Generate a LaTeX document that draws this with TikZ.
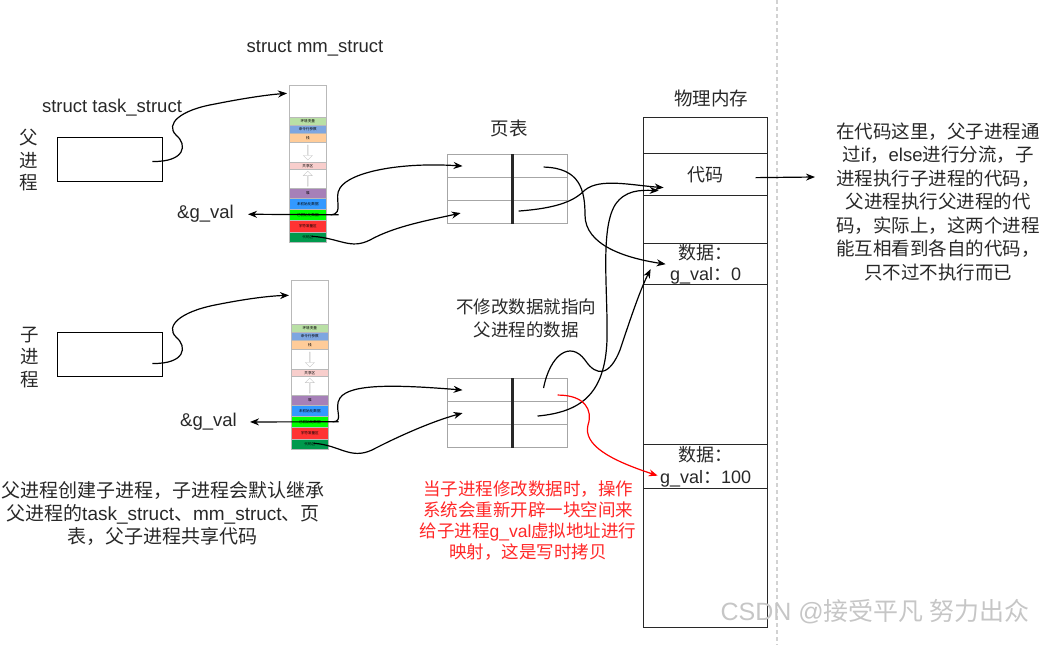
\documentclass[tikz,border=0pt]{standalone}
\usepackage{fontspec}
\setmainfont{Liberation Sans}
\newfontfamily\cjk{Noto Sans CJK SC}
\newfontfamily\latfont{Liberation Sans}
\newcommand{\lat}[1]{{\latfont #1}}
\usetikzlibrary{arrows.meta,shapes.arrows,calc,positioning}
\definecolor{memlgreen}{RGB}{185,224,165}
\definecolor{memlblue}{RGB}{126,166,224}
\definecolor{memorange}{RGB}{255,204,153}
\definecolor{mempink}{RGB}{248,206,204}
\definecolor{mempurple}{RGB}{166,128,184}
\definecolor{memblue}{RGB}{51,153,255}
\definecolor{memgreen}{RGB}{0,255,0}
\definecolor{memred}{RGB}{255,51,51}
\definecolor{memdkgreen}{RGB}{0,153,77}
\definecolor{cowred}{RGB}{255,40,40}
\definecolor{inkgray}{RGB}{40,40,40}

\tikzset{
  mmseg/.style={draw=gray!55, line width=0.6pt, minimum width=37, inner sep=0pt, anchor=north west, font=\cjk\fontsize{3.6}{4}\selectfont},
  ptcell/.style={draw=gray!70, line width=1.1pt, minimum height=23, inner sep=0pt, anchor=north west},
  memcell/.style={draw=inkgray, line width=1.3pt, minimum width=124, inner sep=0pt, anchor=north west, align=center, text=inkgray, font=\cjk\fontsize{18}{21.5}\selectfont},
  taskbox/.style={draw=black, line width=0.9pt, minimum width=105, minimum height=44},
  link/.style={line width=1.2pt, -{Stealth[length=9pt,width=7pt]}},
  cntext/.style={font=\cjk\fontsize{18.5}{23.5}\selectfont, align=center, text=inkgray, inner sep=0pt},
  entext/.style={font=\latfont\fontsize{18.5}{22}\selectfont, text=inkgray, inner sep=0pt}
}

% one mm_struct column: name, left x, top y, y of first band
\newcommand{\mmcol}[4]{%
  \node[mmseg, minimum height={#4-#3}] (#1-top) at (#2,#3) {};
  \foreach \nm/\ya/\h/\col/\txt in {env/0/8/memlgreen/环境变量, arg/8/8/memlblue/命令行参数,
      stack/16/9/memorange/栈, gapa/25/20/white/, shm/45/7/mempink/共享区, gapb/52/19/white/,
      heap/71/10/mempurple/堆, bss/81/11/memblue/未初始化数据, data/92/11/memgreen/已初始化数据,
      rodata/103/12/memred/字符常量区, text/115/10/memdkgreen/代码区}{
    \node[mmseg, fill=\col, minimum height=\h] (#1-\nm) at (#2,{#4+\ya}) {\txt};
  }
  \node[single arrow, draw=gray!45, minimum width=9pt, minimum height=15pt, single arrow head extend=2pt, inner sep=0pt, shape border rotate=270] at (#1-gapa.center) {};
  \node[single arrow, draw=gray!45, minimum width=9pt, minimum height=15pt, single arrow head extend=2pt, inner sep=0pt, shape border rotate=90] at (#1-gapb.center) {};
}

% one page table: name, left x, top y
\newcommand{\pagetab}[3]{%
  \foreach \r in {1,2,3}{
    \node[ptcell, minimum width=64] (#1-l\r) at (#2,{#3+23*(\r-1)}) {};
    \node[ptcell, minimum width=56] (#1-r\r) at ({#2+64},{#3+23*(\r-1)}) {};
  }
  \draw[line width=3pt, inkgray] (#1-l1.north east) -- (#1-l3.south east);
}

\begin{document}
\begin{tikzpicture}[x=1pt, y=-1pt]
  \useasboundingbox (0,0) rectangle (1047,645);

  % separator
  \draw[gray!35, line width=1.2pt, dash pattern=on 4pt off 3pt] (777,0) -- (777,645);

  % task_struct
  \node[entext] (tasklbl) at (112,108) {struct task\_struct};
  \node[taskbox] (ptask) at (109.5,159.5) {};
  \node[taskbox] (ctask) at (109.5,354.5) {};
  \node[cntext, font=\cjk\fontsize{18.5}{22.5}\selectfont] (plabel) at (29,160.5) {父\\进\\程};
  \node[cntext, font=\cjk\fontsize{18.5}{22.5}\selectfont] (clabel) at (30,357.5) {子\\进\\程};

  % mm_struct
  \node[entext] (mmlbl) at (315,48) {struct mm\_struct};
  \mmcol{p}{289}{85}{117}
  \mmcol{c}{291}{280}{324}
  \node[entext, anchor=east, inner xsep=14pt] (pgval) at (248,214) {\&g\_val};
  \node[entext, anchor=east, inner xsep=13pt] (cgval) at (250,422) {\&g\_val};

  % page tables
  \node[cntext] (ptlbl) at (509,128) {页表};
  \pagetab{ptA}{447}{154}
  \pagetab{ptB}{447}{378}

  % physical memory
  \node[cntext] (memlbl) at (711,98) {物理内存};
  \node[memcell, minimum height=36] (mtop) at (643,117) {};
  \node[memcell, minimum height=42] (mcode) at (643,153) {代码};
  \node[memcell, minimum height=48] (mgapa) at (643,195) {};
  \node[memcell, minimum height=41] (mdata) at (643,243) {数据：\\\lat{g\_val}：\lat{0}};
  \node[memcell, minimum height=160] (mgapb) at (643,284) {};
  \node[memcell, minimum height=44] (mdatb) at (643,444) {数据：\\\lat{g\_val}：\lat{100}};
  \node[memcell, minimum height=139] (mbot) at (643,488) {};

  % notes
  \node[cntext] (note) at (938,201.5) {在代码这里，父子进程通\\过\lat{if}，\lat{else}进行分流，子\\进程执行子进程的代码，\\父进程执行父进程的代\\码，实际上，这两个进程\\能互相看到各自的代码，\\只不过不执行而已};
  \node[cntext, font=\cjk\fontsize{17.5}{23}\selectfont] (sharenote) at (526,318.5) {不修改数据就指向\\父进程的数据};
  \node[cntext, text=cowred, font=\cjk\fontsize{17.5}{21}\selectfont] (cownote) at (528,520.5) {当子进程修改数据时，操作\\系统会重新开辟一块空间来\\给子进程\lat{g\_val}虚拟地址进行\\映射，这是写时拷贝};
  \node[cntext, font=\cjk\fontsize{19}{23}\selectfont] (forknote) at (163,514) {父进程创建子进程，子进程会默认继承\\父进程的\lat{task\_struct}、\lat{mm\_struct}、页\\表，父子进程共享代码};
  \node[font=\cjk\fontsize{25}{27}\selectfont, text=gray!45, inner sep=0pt] (mark) at (875,612) {\lat{CSDN @}接受平凡 努力出众};

  % task_struct -> mm_struct
  \draw[link] ($(ptask.east)+(-10,2)$) .. controls (185,162) and (188,145) .. (176,135)
    .. controls (165,124) and (180,110) .. (215,104) .. controls (240,99) and (265,95) .. ($(p-top.west)+(-2,-8)$);
  \draw[link] ($(ctask.east)+(-10,9)$) .. controls (185,364) and (188,347) .. (176,337)
    .. controls (165,326) and (180,312) .. (215,305) .. controls (245,299) and (268,296) .. ($(c-top.west)+(-2,-7)$);

  % mm_struct -> &g_val
  \draw[link] ($(p-data.east)+(12,0)$) -- (pgval);
  \draw[link] ($(c-data.east)+(10,0)$) -- (cgval);

  % mm_struct -> page tables
  \draw[link] ($(p-data.east)+(4,0)$) .. controls (345,214) and (333,198) .. (340,188)
    .. controls (350,172) and (400,162) .. ($(ptA-l1.center)+(-17,0)$);
  \draw[link] ($(p-text.center)+(4,-1)$) .. controls (340,238) and (350,250) .. (370,240)
    .. controls (395,226) and (430,220) .. ($(ptA-l3.center)+(-19,1)$);
  \draw[link] ($(c-data.east)+(4,0)$) .. controls (345,422) and (333,408) .. (340,398)
    .. controls (350,383) and (400,385) .. ($(ptB-l1.center)+(-17,0)$);
  \draw[link] ($(c-text.center)+(4,-1)$) .. controls (340,445) and (350,460) .. (372,450)
    .. controls (395,438) and (430,422) .. ($(ptB-l2.center)+(-17,0)$);

  % page tables -> physical memory
  \draw[link] ($(ptA-r1.center)+(4,1)$) .. controls (580,168) and (585,190) .. (585,215)
    .. controls (585,245) and (625,258) .. ($(mdata.center)+(-40,0)$);
  \draw[link] ($(ptA-r3.center)+(-21,-1)$) .. controls (560,208) and (575,200) .. (585,190)
    .. controls (600,178) and (630,185) .. ($(mcode.center)+(-42,13)$);
  \draw[link] ($(ptB-r1.center)+(4,-2)$) .. controls (550,355) and (570,340) .. (585,360)
    .. controls (597,378) and (610,375) .. (620,350) .. controls (630,320) and (640,290) .. ($(mdata.center)+(-55,5)$);
  \draw[link] ($(ptB-r2.center)+(-2,3)$) .. controls (580,412) and (605,395) .. (607,340)
    .. controls (608,290) and (600,230) .. (615,205) .. controls (625,190) and (640,190) .. ($(mcode.center)+(-47,16)$);
  \draw[link, red] ($(ptB-r1.center)+(18,5)$) .. controls (585,395) and (593,410) .. (588,425)
    .. controls (583,445) and (610,460) .. ($(mdatb.center)+(-48,9)$);

  % code -> note
  \coordinate (notein) at (815,177);
  \draw[link] ($(mcode.center)+(50,3)$) -- (notein);
\end{tikzpicture}
\end{document}
